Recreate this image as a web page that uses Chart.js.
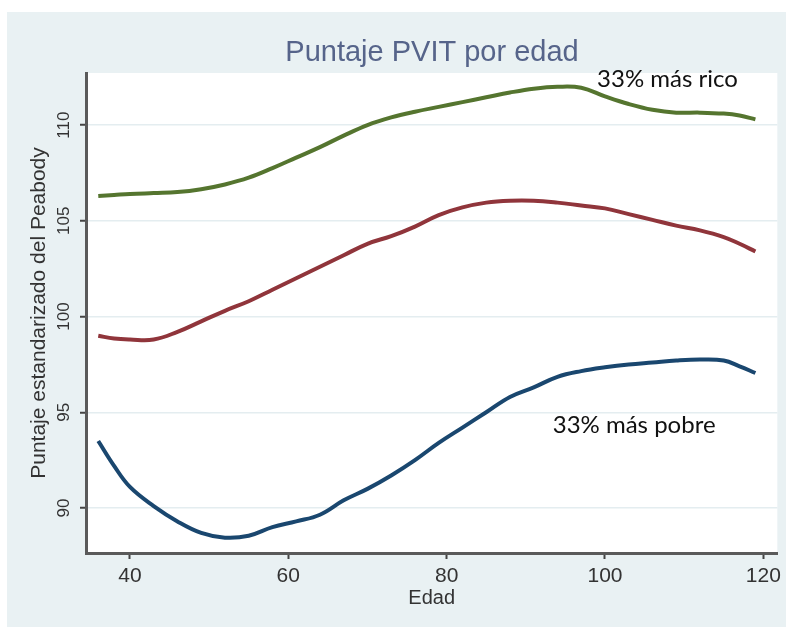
<!DOCTYPE html>
<html>
<head>
<meta charset="utf-8">
<script src="https://cdn.jsdelivr.net/npm/chart.js@4"></script>
<style>
  html, body { margin:0; padding:0; background:#ffffff; }
  #wrap { width:786px; height:627px; }
</style>
</head>
<body>
<div id="wrap"><canvas id="c" width="786" height="627"></canvas></div>
<script>
// ── Data ────────────────────────────────────────────────────────
const edades = [36,38,40,43,46,49,52,55,58,61,64,67,70,73,76,79,82,85,88,91,94,97,100,103,106,109,112,115,117,119];

const masRico = [106.3,106.35,106.4,106.45,106.5,106.65,106.9,107.25,107.75,108.3,
  108.85,109.45,110.0,110.4,110.7,110.95,111.2,111.45,111.7,111.9,
  112.0,111.95,111.5,111.1,110.8,110.65,110.65,110.6,110.5,110.3];

const medio = [99.0,98.85,98.8,98.8,99.2,99.75,100.3,100.8,101.4,102.0,
  102.6,103.2,103.8,104.2,104.7,105.3,105.7,105.95,106.05,106.05,
  105.95,105.8,105.65,105.35,105.05,104.75,104.5,104.15,103.8,103.4];

const masPobre = [93.5,92.2,91.1,90.1,89.3,88.7,88.45,88.55,89.0,89.3,
  89.65,90.4,91.0,91.7,92.5,93.4,94.2,95.0,95.8,96.3,
  96.85,97.15,97.35,97.5,97.6,97.7,97.75,97.7,97.4,97.05];

const xTicks = [40, 60, 80, 100, 120];
const yTicks = [90, 95, 100, 105, 110];

const titulo = 'Puntaje PVIT por edad';
const tituloY = 'Puntaje estandarizado del Peabody';
const tituloX = 'Edad';
const etiquetaRico = { text:'33% más rico', x:99.0, y:112.0 };
const etiquetaPobre = { text:'33% más pobre', x:93.4, y:93.9 };

// ── Style ───────────────────────────────────────────────────────
const SANS = "'Liberation Sans', Arial, sans-serif";
const PANEL = '#e9f1f3';
const AXIS = '#5a5a5a';

const toPts = vals => edades.map((x, i) => ({ x, y: vals[i] }));

const lineDs = (label, vals, color) => ({
  label, data: toPts(vals), borderColor: color, backgroundColor: 'transparent',
  borderWidth: 4, pointRadius: 0, tension: 0.4
});

// background panel, white plot region, title and the two notes
const decor = {
  id: 'decor',
  beforeDraw(chart) {
    const { ctx, chartArea: a } = chart;
    ctx.save();
    ctx.fillStyle = '#ffffff';
    ctx.fillRect(0, 0, chart.width, chart.height);
    ctx.fillStyle = PANEL;
    ctx.fillRect(7, 12, chart.width - 7, chart.height - 12);
    ctx.fillStyle = '#ffffff';
    ctx.fillRect(a.left, a.top, a.right - a.left, a.bottom - a.top);
    ctx.restore();
  },
  afterDraw(chart) {
    const { ctx, scales: { x, y } } = chart;
    ctx.save();
    ctx.fillStyle = '#56648a';
    ctx.font = `29px ${SANS}`;
    ctx.textAlign = 'center';
    ctx.textBaseline = 'middle';
    ctx.fillText(titulo, 432, 53);

    ctx.fillStyle = '#111111';
    ctx.font = "24px Lato, 'Open Sans', sans-serif";
    ctx.textAlign = 'left';
    ctx.textBaseline = 'alphabetic';
    [etiquetaRico, etiquetaPobre].forEach(e => {
      ctx.fillText(e.text, x.getPixelForValue(e.x), y.getPixelForValue(e.y));
    });
    ctx.restore();
  }
};

new Chart(document.getElementById('c'), {
  type: 'line',
  data: {
    datasets: [
      lineDs('33% más pobre', masPobre, '#1a476f'),
      lineDs('medio', medio, '#90353b'),
      lineDs('33% más rico', masRico, '#55752f')
    ]
  },
  options: {
    responsive: false,
    animation: false,
    layout: { padding: { top: 73, right: 8, bottom: 0, left: 0 } },
    plugins: { legend: { display: false }, tooltip: { enabled: false } },
    scales: {
      x: {
        type: 'linear', min: 34.45, max: 121.77,
        afterFit: s => { s.height = 74; },
        afterBuildTicks: s => { s.ticks = xTicks.map(v => ({ value: v })); },
        grid: { drawOnChartArea: false, tickLength: 6, tickColor: '#444', tickWidth: 2 },
        border: { color: AXIS, width: 3 },
        ticks: { font: { family: SANS, size: 21 }, color: '#333', padding: 5, maxRotation: 0 },
        title: { display: true, text: tituloX, color: '#333',
          font: { family: SANS, size: 20 }, padding: { top: 0, bottom: 17 } }
      },
      y: {
        min: 87.65, max: 112.72,
        afterFit: s => { s.width = 86; },
        afterBuildTicks: s => { s.ticks = yTicks.map(v => ({ value: v })); },
        grid: { color: '#e4edf0', lineWidth: 1.5, tickLength: 6, tickColor: '#444', tickWidth: 2 },
        border: { color: AXIS, width: 3 },
        ticks: { font: { family: SANS, size: 17 }, color: '#333', padding: 2,
          minRotation: 90, maxRotation: 90, crossAlign: 'center' },
        title: { display: true, text: tituloY, color: '#333',
          font: { family: SANS, size: 21 }, padding: { top: 27, bottom: 0 } }
      }
    }
  },
  plugins: [decor]
});
</script>
</body>
</html>
